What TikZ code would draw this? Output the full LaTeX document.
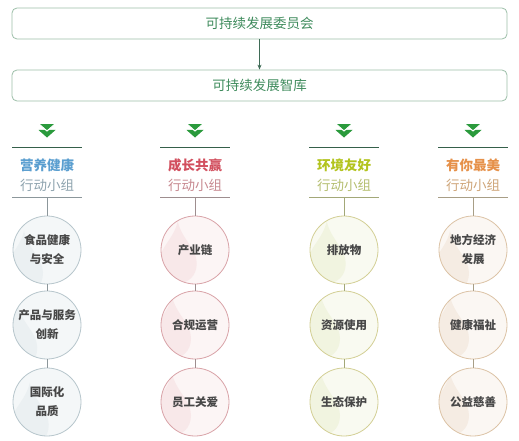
\documentclass[tikz,border=0pt]{standalone}
\usepackage{fontspec}
\setmainfont{Noto Sans CJK SC}
\usetikzlibrary{arrows.meta}
\definecolor{boxline}{HTML}{9DBFA9}
\definecolor{boxtext}{HTML}{3E8B5C}
\definecolor{arrowc}{HTML}{3F6B56}
\definecolor{chev}{HTML}{2A9A3C}
\definecolor{topline}{HTML}{35604A}
\definecolor{circtext}{HTML}{474747}
% column 1 (blue)
\definecolor{aline}{HTML}{B7C6CC}\definecolor{afill}{HTML}{F4F7F8}\definecolor{adrop}{HTML}{EBF0F2}
\definecolor{ahead}{HTML}{5B9FD0}\definecolor{asub}{HTML}{8FA4AF}\definecolor{aconn}{HTML}{8C979B}
% column 2 (red)
\definecolor{bline}{HTML}{D9A3A8}\definecolor{bfill}{HTML}{FCF5F5}\definecolor{bdrop}{HTML}{F8E8E9}
\definecolor{bhead}{HTML}{D24F5E}\definecolor{bsub}{HTML}{C88A91}\definecolor{bconn}{HTML}{9E8E8F}
% column 3 (green)
\definecolor{cline}{HTML}{D3CF95}\definecolor{cfill}{HTML}{F9FAF1}\definecolor{cdrop}{HTML}{F1F4E0}
\definecolor{chead}{HTML}{B3C41F}\definecolor{csub}{HTML}{B6BF72}\definecolor{cconn}{HTML}{A3A878}
% column 4 (orange)
\definecolor{dline}{HTML}{DCC3A6}\definecolor{dfill}{HTML}{FBF7F3}\definecolor{ddrop}{HTML}{F5ECE3}
\definecolor{dhead}{HTML}{E6914A}\definecolor{dsub}{HTML}{CFA67A}\definecolor{dconn}{HTML}{A89E86}
\tikzset{
  topbox/.style={draw=boxline, line width=0.8pt, rounded corners=5pt, minimum width=495pt,
    minimum height=31pt, inner sep=0pt, text=boxtext, font=\fontsize{13.5}{16}\selectfont},
  bubble/.style={circle, minimum size=68pt, inner sep=0pt, line width=0.8pt,
    draw=#1line, fill=#1fill, text=circtext, align=center,
    font=\fontsize{11.5}{19}\selectfont\bfseries,
    path picture={
      \begin{scope}[shift={(path picture bounding box.center)}]
        \fill[#1drop] (0,-33) .. controls (4,-15) and (19,-6) .. (19,9)
          .. controls (19,22) and (10,29) .. (0,29)
          .. controls (-10,29) and (-19,22) .. (-19,9)
          .. controls (-19,-6) and (-4,-15) .. cycle;
      \end{scope}}},
  grouptitle/.style={align=center, inner sep=0pt,
    font=\fontsize{13.5}{20}\selectfont},
  hline/.style={line width=0.9pt},
  conn/.style={line width=0.7pt},
}
\newcommand{\chevrons}[1]{%
  \fill[chev] (#1-8.5,130) -- (#1+8.5,130) -- (#1,137.5) -- cycle;
  \filldraw[chev, draw=white, line width=1pt] (#1-8.5,123.5) -- (#1+8.5,123.5) -- (#1,131) -- cycle;
}
\begin{document}
\begin{tikzpicture}[x=1pt,y=-1pt]
\useasboundingbox[fill=white] (0,0) rectangle (519,441);

\node[topbox] (comm) at (259.5,23.5) {可持续发展委员会};
\node[topbox] (think) at (259.5,85.5) {可持续发展智库};
\draw[arrowc, line width=0.8pt, -{Stealth[length=5pt,width=4pt]}] (comm.south) -- (think.north);

% columns
\foreach \cx/\k/\head/\sub in {47/a/营养健康/行动小组, 195/b/成长共赢/行动小组, 344/c/环境友好/行动小组, 473/d/有你最美/行动小组}{
  \chevrons{\cx}
  \draw[topline, hline] (\cx-35,147) -- (\cx+35,147);
  \node[grouptitle] (title\k) at (\cx,175) {{\color{\k head}\bfseries \head}\\{\color{\k sub}\sub}};
  \draw[\k conn, hline] (\cx-35,197) -- (\cx+35,197);
  \coordinate (base\k) at (\cx,197);
}

% column 1
\node[bubble=a] (a1) at (47,250) {食品健康\\与安全};
\node[bubble=a] (a2) at (47,325) {产品与服务\\创新};
\node[bubble=a] (a3) at (47,402) {国际化\\品质};
% column 2
\node[bubble=b] (b1) at (195,250) {产业链};
\node[bubble=b] (b2) at (195,325) {合规运营};
\node[bubble=b] (b3) at (195,402) {员工关爱};
% column 3
\node[bubble=c] (c1) at (344,250) {排放物};
\node[bubble=c] (c2) at (344,325) {资源使用};
\node[bubble=c] (c3) at (344,402) {生态保护};
% column 4
\node[bubble=d] (d1) at (473,250) {地方经济\\发展};
\node[bubble=d] (d2) at (473,325) {健康福祉};
\node[bubble=d] (d3) at (473,402) {公益慈善};

\foreach \k in {a,b,c,d}{
  \draw[\k conn, conn] (base\k) -- (\k1.north);
  \draw[\k conn, conn] (\k1.south) -- (\k2.north);
  \draw[\k conn, conn] (\k2.south) -- (\k3.north);
}
\end{tikzpicture}
\end{document}
